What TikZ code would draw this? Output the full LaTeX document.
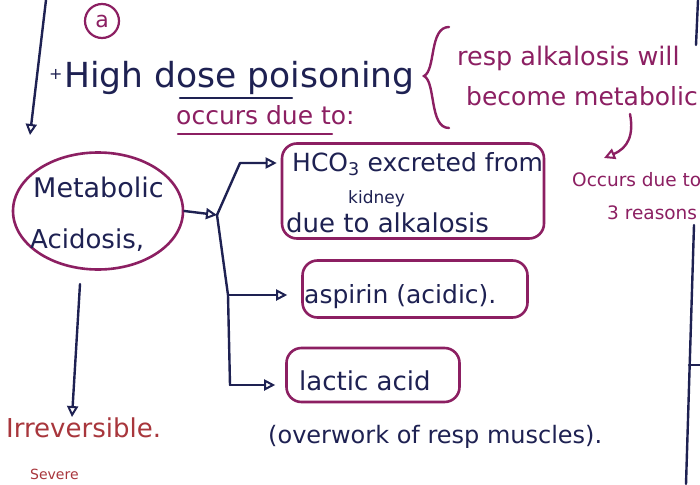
\documentclass[tikz,border=0pt]{standalone}
\usepackage{fontspec}
\setmainfont{DejaVu Sans}
\usetikzlibrary{arrows.meta,shapes.geometric}
\definecolor{ink}{HTML}{1E2152}
\definecolor{plum}{HTML}{8C1F62}
\definecolor{rust}{HTML}{A8363C}
\newcommand{\fs}[1]{\fontsize{#1}{#1}\selectfont}
\begin{document}
\begin{tikzpicture}[x=1pt,y=-1pt,
  txt/.style={inner sep=0pt,anchor=base west},
  inkline/.style={draw=ink,line width=2.4pt,line cap=round,line join=round},
  tip/.style={-{Triangle[open,length=11pt,width=11pt,line width=2pt]}},
  arr/.style={inkline,tip},
  plumbox/.style={draw=plum,line width=2.6pt,rounded corners=15pt,inner sep=0pt},
  plumline/.style={draw=plum,line width=2.4pt,line cap=round}]
\useasboundingbox[fill=white] (0,0) rectangle (700,484);

% margin rule on the left with its arrow
\coordinate (m0) at (46,0);
\coordinate (m1) at (30,135);
\draw[arr] (m0) -- (m1);

% circled item label
\node[draw=plum,circle,line width=2.2pt,minimum size=34pt,inner sep=0pt,text=plum,font=\fs{22}] (lbl) at (102,21) {a};

% heading
\node[txt,text=ink,font=\fs{16}] (plus) at (49,80) {+};
\node[txt,text=ink,font=\fs{34.5}] (head) at (64,88) {High dose poisoning};
\coordinate (u0) at (180,98);
\coordinate (u1) at (292,98);
\draw[inkline] (u0) -- (u1);
\node[txt,text=plum,font=\fs{25}] (occ) at (176,124) {occurs due to:};
\coordinate (v0) at (178,134);
\coordinate (v1) at (332,134);
\draw[plumline] (v0) -- (v1);

% brace and side remark
\coordinate (b0) at (449,27);
\coordinate (b1) at (449,128);
\draw[plumline,line width=2.4pt] (b0) .. controls (429,27) and (436,70) .. (424,76)
  .. controls (436,82) and (429,128) .. (b1);
\node[txt,text=plum,font=\fs{25.5}] (r1) at (457,66) {resp alkalosis will};
\node[txt,text=plum,font=\fs{25}] (r2) at (466,106) {become metabolic};
\node[txt,text=plum,font=\fs{18.5}] (r3) at (572,186) {Occurs due to};
\node[txt,text=plum,font=\fs{18.5}] (r4) at (607,219) {3 reasons};
\coordinate (c0) at (630,114);
\coordinate (c1) at (604,158);
\draw[plumline,tip] (c0) .. controls (634,135) and (628,148) .. (c1);

% main cause
\node[draw=plum,line width=2.6pt,ellipse,minimum width=170pt,minimum height=117pt,
  inner sep=0pt] (ma) at (98,211) {};
\node[txt,text=ink,font=\fs{27}] (ma1) at (33,197) {Metabolic};
\node[txt,text=ink,font=\fs{26}] (ma2) at (30,248) {Acidosis,};

% three reasons
\node[plumbox,minimum width=262pt,minimum height=95pt] (bx1) at (413,191) {};
\node[txt,text=ink,font=\fs{25}] (t1a) at (292,171) {HCO\textsubscript{3} excreted from};
\node[txt,text=ink,font=\fs{17}] (t1b) at (348,203) {kidney};
\node[txt,text=ink,font=\fs{26}] (t1c) at (286,232) {due to alkalosis};

\node[plumbox,minimum width=225pt,minimum height=57pt] (bx2) at (415,289) {};
\node[txt,text=ink,font=\fs{25}] (t2) at (304,303) {aspirin (acidic).};

\node[plumbox,minimum width=173pt,minimum height=54pt] (bx3) at (373,375) {};
\node[txt,text=ink,font=\fs{26}] (t3) at (299,390) {lactic acid};
\node[txt,text=ink,font=\fs{24}] (t4) at (268,443) {(overwork of resp muscles).};

% branching connectors
\coordinate (j) at (217,215);
\coordinate (k1) at (240,163);
\coordinate (k2) at (228,295);
\coordinate (k3) at (230,385);
\draw[arr] (ma.east) -- (j);
\draw[arr] (j) -- (k1) -- ([xshift=-4pt]bx1.west|-k1);
\draw[inkline] (j) -- (k2) -- (k3);
\draw[arr] (k2) -- ([xshift=-14pt]bx2.west|-k2);
\draw[arr] (k3) -- ([xshift=-10pt]bx3.west|-k3);

% outcome
\node[txt,text=rust,font=\fs{26}] (irr) at (6,437) {Irreversible.};
\coordinate (d0) at (80,284);
\draw[arr] (d0) -- (irr.north-|72,390);
\node[txt,text=rust,font=\fs{14}] (sev) at (30,479) {Severe};

% page edge rule on the right
\coordinate (e0) at (698,0);
\coordinate (e1) at (696,45);
\coordinate (e2) at (694,225);
\coordinate (e3) at (686,484);
\coordinate (e4) at (689,365);
\coordinate (e5) at (700,365);
\draw[inkline] (e0) -- (e1);
\draw[inkline] (e2) -- (e3);
\draw[inkline] (e4) -- (e5);
\end{tikzpicture}
\end{document}
